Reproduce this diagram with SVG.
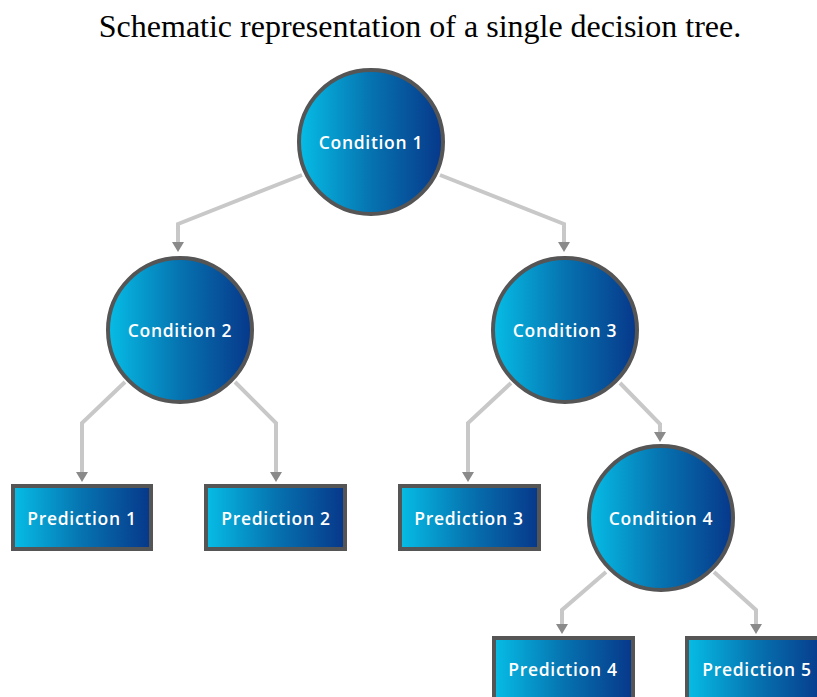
<svg xmlns="http://www.w3.org/2000/svg" width="817" height="697" viewBox="0 0 817 697">
<defs>
<linearGradient id="g" x1="0" y1="0" x2="1" y2="0">
<stop offset="0" stop-color="#06bde6"/>
<stop offset="0.5" stop-color="#0673b0"/>
<stop offset="1" stop-color="#07378a"/>
</linearGradient>
</defs>
<style>
.title{font-family:"Liberation Serif","Times New Roman",serif;font-size:32px;fill:#000}
.node circle,.node rect{fill:url(#g);stroke:#555;stroke-width:4}
.lbl{font-family:"Open Sans",Lato,sans-serif;font-weight:600;font-size:17.5px;letter-spacing:0.7px;fill:#fff;text-anchor:middle;dominant-baseline:central}
.conn path{fill:none;stroke:#c8c8c8;stroke-width:4}
.tip{fill:#8a8a8a}
</style>
<rect width="817" height="697" fill="#fff"/>
<text class="title" x="420" y="37" text-anchor="middle">Schematic representation of a single decision tree.</text>
<g id="connectors" class="conn">
<path d="M302,175 L178,224 L178,243"/>
<path d="M440,175 L564,224 L564,243"/>
<path d="M125,382 L82,423 L82,473"/>
<path d="M235,382 L276,423 L276,473"/>
<path d="M511,383 L468,423 L468,473"/>
<path d="M620,383 L660,424 L660,433"/>
<path d="M606,572 L562,610 L562,625"/>
<path d="M714,572 L756,610 L756,625"/>
<polygon class="tip" points="172,242 184,242 178,252"/>
<polygon class="tip" points="558,242 570,242 564,252"/>
<polygon class="tip" points="76,472 88,472 82,482"/>
<polygon class="tip" points="270,472 282,472 276,482"/>
<polygon class="tip" points="462,472 474,472 468,482"/>
<polygon class="tip" points="654,432 666,432 660,442"/>
<polygon class="tip" points="556,624 568,624 562,634"/>
<polygon class="tip" points="750,624 762,624 756,634"/>
</g>
<g id="condition1" class="node"><circle cx="371" cy="142" r="72"/><text class="lbl" x="371" y="142">Condition 1</text></g>
<g id="condition2" class="node"><circle cx="180" cy="330" r="72"/><text class="lbl" x="180" y="330">Condition 2</text></g>
<g id="condition3" class="node"><circle cx="565" cy="330" r="72"/><text class="lbl" x="565" y="330">Condition 3</text></g>
<g id="condition4" class="node"><circle cx="661" cy="518" r="72"/><text class="lbl" x="661" y="518">Condition 4</text></g>
<g id="prediction1" class="node"><rect x="13" y="486" width="138" height="63"/><text class="lbl" x="82" y="518">Prediction 1</text></g>
<g id="prediction2" class="node"><rect x="206" y="486" width="139" height="63"/><text class="lbl" x="276" y="518">Prediction 2</text></g>
<g id="prediction3" class="node"><rect x="400" y="486" width="139" height="63"/><text class="lbl" x="469" y="518">Prediction 3</text></g>
<g id="prediction4" class="node"><rect x="494" y="638" width="139" height="63"/><text class="lbl" x="563" y="669">Prediction 4</text></g>
<g id="prediction5" class="node"><rect x="687" y="638" width="139" height="63"/><text class="lbl" x="757" y="669">Prediction 5</text></g>
</svg>
